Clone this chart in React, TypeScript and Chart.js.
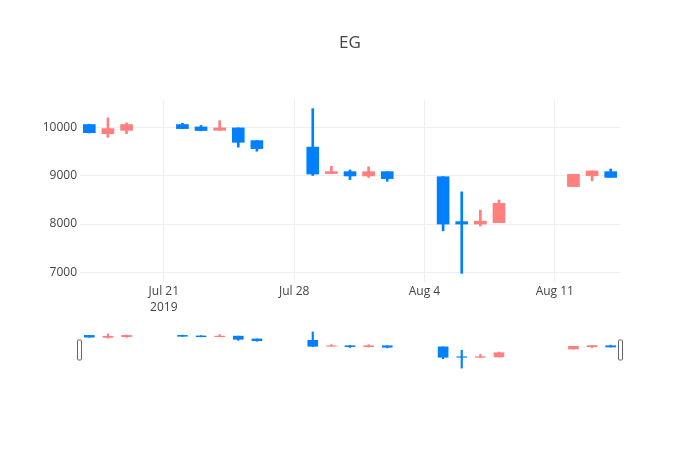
import React, { useEffect, useRef } from "react";
import { Chart, registerables } from "chart.js";

Chart.register(...registerables);

const title = "EG";
const dates = [
  "2019-07-17", "2019-07-18", "2019-07-19",
  "2019-07-22", "2019-07-23", "2019-07-24", "2019-07-25", "2019-07-26",
  "2019-07-29", "2019-07-30", "2019-07-31", "2019-08-01", "2019-08-02",
  "2019-08-05", "2019-08-06", "2019-08-07", "2019-08-08",
  "2019-08-12", "2019-08-13", "2019-08-14",
];
const openVals = [10070, 9880, 9950, 10070, 10020, 9950, 10000, 9735, 9600, 9050, 9090, 9000, 9090, 8985, 8050, 8000, 8030, 8780, 9005, 9090];
const highVals = [10075, 10208, 10104, 10096, 10050, 10150, 10000, 9735, 10400, 9200, 9125, 9190, 9090, 8985, 8670, 8290, 8500, 9035, 9105, 9145];
const lowVals = [9895, 9804, 9881, 9985, 9940, 9950, 9600, 9515, 9010, 9050, 8925, 8970, 8890, 7860, 6975, 7960, 8030, 8780, 8900, 8970];
const closeVals = [9900, 9985, 10070, 9985, 9945, 10000, 9700, 9570, 9040, 9090, 9000, 9090, 8945, 8000, 8000, 8060, 8430, 9035, 9105, 8970];

const tickDates = ["2019-07-21", "2019-07-28", "2019-08-04", "2019-08-11"];
const tickLabels: (string | string[])[] = [["Jul 21", "2019"], "Jul 28", "Aug 4", "Aug 11"];
const yTicks = [7000, 8000, 9000, 10000];
const yMin = 6795;
const yMax = 10580;

const INC = "#ff7f7f";
const DEC = "#0080ff";
const FONT = "'Open Sans', sans-serif";

const DAY = 86400000;
const base = Date.parse(dates[0]);
const dayOf = (d: string) => Math.round((Date.parse(d) - base) / DAY);
const xs = dates.map(dayOf);
const xMin = -0.5;
const xMax = xs[xs.length - 1] + 0.5;
const colors = openVals.map((o, i) => (closeVals[i] >= o ? INC : DEC));

function makeDatasets(bodyW: number, wickW: number) {
  return [
    {
      label: "body",
      data: xs.map((x, i) => ({ x, y: [Math.min(openVals[i], closeVals[i]), Math.max(openVals[i], closeVals[i])] })),
      backgroundColor: colors,
      borderWidth: 0,
      barThickness: bodyW,
      grouped: false,
    },
    {
      label: "wick",
      data: xs.map((x, i) => ({ x, y: [lowVals[i], highVals[i]] })),
      backgroundColor: colors,
      borderWidth: 0,
      barThickness: wickW,
      grouped: false,
    },
  ];
}

const handlesPlugin = {
  id: "handles",
  afterDraw(chart: any) {
    const { ctx, chartArea } = chart;
    const h = 20;
    const w = 4;
    const cy = (chartArea.top + chartArea.bottom) / 2;
    ctx.save();
    ctx.fillStyle = "#fff";
    ctx.strokeStyle = "#666";
    ctx.lineWidth = 1;
    [chartArea.left - 0.5, chartArea.right + 0.5].forEach((cx: number) => {
      ctx.beginPath();
      (ctx as any).roundRect(cx - w / 2, cy - h / 2, w, h, 1);
      ctx.fill();
      ctx.stroke();
    });
    ctx.restore();
  },
};

export default function App() {
  const mainRef = useRef<HTMLCanvasElement>(null);
  const sliderRef = useRef<HTMLCanvasElement>(null);

  useEffect(() => {
    const main = new Chart(mainRef.current!, {
      type: "bar",
      data: { datasets: makeDatasets(12, 2) as any },
      options: {
        animation: false,
        responsive: false,
        layout: { padding: { left: 0, right: 0, top: 0, bottom: 0 } },
        plugins: {
          legend: { display: false },
          tooltip: { enabled: false },
          title: {
            display: true,
            text: title,
            color: "#444",
            font: { family: FONT, size: 17, weight: "normal" as any, lineHeight: 1.2 },
            padding: { top: 33, bottom: 46.6 },
          },
        },
        scales: {
          x: {
            type: "linear",
            min: xMin,
            max: xMax,
            offset: false,
            grid: { color: "#eee", drawTicks: false, offset: false },
            border: { display: false },
            afterFit: (s: any) => { s.height = 168; },
            afterBuildTicks: (s: any) => { s.ticks = tickDates.map((d) => ({ value: dayOf(d) })); },
            ticks: {
              autoSkip: false,
              maxRotation: 0,
              padding: 2,
              color: "#444",
              font: { family: FONT, size: 12, lineHeight: 1.3 },
              callback: (v: any) => {
                const i = tickDates.findIndex((d) => dayOf(d) === v);
                return i >= 0 ? tickLabels[i] : "";
              },
            },
          },
          y: {
            type: "linear",
            min: yMin,
            max: yMax,
            beginAtZero: false,
            grid: { color: "#eee", drawTicks: false },
            border: { display: false },
            afterFit: (s: any) => { s.width = 80; },
            afterBuildTicks: (s: any) => { s.ticks = yTicks.map((v) => ({ value: v })); },
            ticks: {
              padding: 3,
              color: "#444",
              font: { family: FONT, size: 12 },
              callback: (v: any) => String(v),
            },
          },
          yRight: {
            type: "linear",
            position: "right",
            display: true,
            min: yMin,
            max: yMax,
            grid: { display: false, drawTicks: false },
            border: { display: false },
            ticks: { display: false },
            afterFit: (s: any) => { s.width = 80; },
          },
        },
      } as any,
    });

    const slider = new Chart(sliderRef.current!, {
      type: "bar",
      data: { datasets: makeDatasets(10, 1.5) as any },
      options: {
        animation: false,
        responsive: false,
        layout: { padding: { left: 10, right: 10, top: 5, bottom: 5 } },
        plugins: { legend: { display: false }, tooltip: { enabled: false } },
        scales: {
          x: { type: "linear", min: xMin, max: xMax, offset: false, display: false, grid: { offset: false } },
          y: { type: "linear", min: yMin, max: yMax, beginAtZero: false, display: false },
        },
      } as any,
      plugins: [handlesPlugin],
    });

    return () => {
      main.destroy();
      slider.destroy();
    };
  }, []);

  return (
    <div style={{ position: "absolute", left: 0, top: 0, width: 700, height: 450, background: "#fff" }}>
      <canvas ref={mainRef} width={700} height={450} style={{ position: "absolute", left: 0, top: 0 }} />
      <canvas ref={sliderRef} width={560} height={50} style={{ position: "absolute", left: 70, top: 325 }} />
    </div>
  );
}
